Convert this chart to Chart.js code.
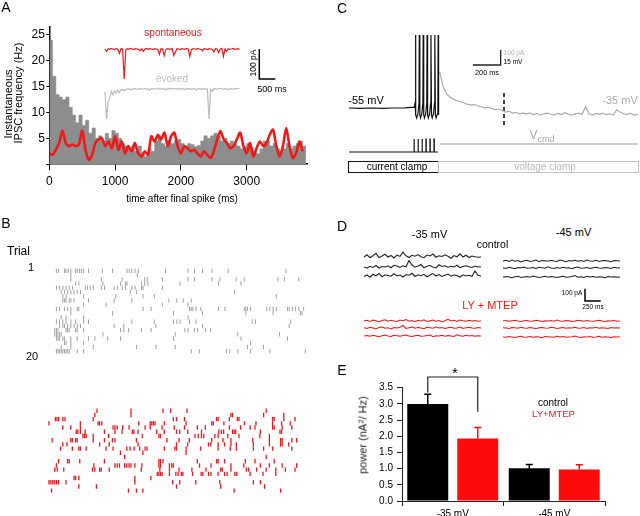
<!DOCTYPE html>
<html>
<head>
<meta charset="utf-8">
<title>IPSC figure</title>
<script src="https://cdn.jsdelivr.net/npm/chart.js@4.4.1/dist/chart.umd.min.js"></script>
<style>
body{margin:0;width:640px;height:516px;position:relative;overflow:hidden;background:#fff;font-family:"Liberation Sans",Arial,sans-serif;color:#000}
canvas{position:absolute}
.t{position:absolute;white-space:nowrap;line-height:1;transform:translate(-50%,-50%)}
.r{position:absolute;white-space:nowrap;line-height:1;transform:translate(-50%,-50%) rotate(-90deg)}
.box{position:absolute;box-sizing:border-box}
sup{font-size:0.7em;vertical-align:0.45em;line-height:0}
sub{font-size:0.75em;vertical-align:-0.3em;line-height:0}
</style>
</head>
<body>
<canvas id="chartA" width="320" height="210" style="left:0;top:0"></canvas>
<canvas id="insetA" width="180" height="90" style="left:100px;top:40px"></canvas>
<canvas id="rasterGray" width="272" height="104" style="left:44px;top:258px"></canvas>
<canvas id="rasterRed" width="272" height="104" style="left:37px;top:398px"></canvas>
<canvas id="chartC" width="300" height="160" style="left:340px;top:25px"></canvas>
<canvas id="chartD" width="280" height="100" style="left:355px;top:245px"></canvas>
<canvas id="chartE" width="300" height="156" style="left:340px;top:360px"></canvas>

<div class="box" style="left:348px;top:161px;width:91px;height:12px;border:1px solid #111"></div>
<div class="box" style="left:438px;top:161px;width:201px;height:12px;border:1.5px solid #c4c4c4"></div>

<!-- panel A -->
<div class="t" style="left:6px;top:7px;font-size:14px">A</div>
<div class="t" style="left:173px;top:33px;font-size:10px;color:#f01818">spontaneous</div>
<div class="t" style="left:172px;top:79px;font-size:10px;color:#bdbdbd">evoked</div>
<div class="r" style="left:253px;top:63px;font-size:8.5px">100 pA</div>
<div class="t" style="left:272px;top:89px;font-size:9px">500 ms</div>
<div class="r" style="left:7.5px;top:104px;font-size:11px">Instantaneous</div>
<div class="r" style="left:17.5px;top:93px;font-size:11px">IPSC frequency (Hz)</div>
<div class="t" style="left:182px;top:199px;font-size:10px">time after final spike (ms)</div>

<!-- panel B -->
<div class="t" style="left:6px;top:223px;font-size:14px">B</div>
<div class="t" style="left:18.5px;top:251px;font-size:12px">Trial</div>
<div class="t" style="left:31px;top:267px;font-size:11px">1</div>
<div class="t" style="left:32px;top:356px;font-size:11px">20</div>

<!-- panel C -->
<div class="t" style="left:342px;top:8px;font-size:14px">C</div>
<div class="t" style="left:366px;top:100px;font-size:11px">-55 mV</div>
<div class="t" style="left:620px;top:100px;font-size:11px;color:#aaa">-35 mV</div>
<div class="t" style="left:514px;top:52.5px;font-size:6.5px;color:#b0b0b0">100 pA</div>
<div class="t" style="left:513px;top:61.5px;font-size:6.5px">15 mV</div>
<div class="t" style="left:487px;top:73px;font-size:7.3px">200 ms</div>
<div class="t" style="left:542px;top:135px;font-size:12px;color:#aaa">V<sub>cmd</sub></div>
<div class="t" style="left:397px;top:167px;font-size:10px">current clamp</div>
<div class="t" style="left:545px;top:167px;font-size:10px;color:#bbb">voltage clamp</div>

<!-- panel D -->
<div class="t" style="left:342px;top:226px;font-size:14px">D</div>
<div class="t" style="left:429.5px;top:234px;font-size:11px">-35 mV</div>
<div class="t" style="left:573.5px;top:232px;font-size:11px">-45 mV</div>
<div class="t" style="left:492.5px;top:243.5px;font-size:10.5px">control</div>
<div class="t" style="left:490px;top:305px;font-size:11px;color:#f01818">LY + MTEP</div>
<div class="t" style="left:572px;top:293px;font-size:6.5px">100 pA</div>
<div class="t" style="left:593px;top:307px;font-size:6.5px">250 ms</div>

<!-- panel E -->
<div class="t" style="left:342px;top:370px;font-size:14px">E</div>
<div class="t" style="left:455px;top:373px;font-size:14px">*</div>
<div class="t" style="left:553px;top:403px;font-size:10px">control</div>
<div class="t" style="left:553.5px;top:414px;font-size:9.5px;color:#f01818">LY+MTEP</div>
<div class="r" style="left:363px;top:435px;font-size:11px;color:#222">power (nA<sup>2</sup>/ Hz)</div>

<script>
// ---- panel A: histogram + smoothed rate (Hz), 50 ms bins
const binMs = 50;
const grayHist = [24,17,13.5,13,12.5,13,11,9.5,8,9.5,
  7.5,8.5,6,7,5,5.5,4.5,6,5,6.5,
  6,5,4,3.5,3,3.5,2.5,3.5,2,1.5,
  3,2.5,4.5,5.5,4,3.5,4.5,4,4.5,4.8,
  4,3.5,4,3.8,3.4,3.6,4.5,5.5,5,5.5,
  6,5.5,4.5,5,4,4.5,4,3.5,3,3.4,
  4,3.2,2.5,2,3,4.5,4.5,3.5,4,3,
  2.5,3,4,3,3.5,4,4.5,3.5];
const redRate = [2.1,1.8,2.8,4.1,6.5,4.1,3.5,3.8,3.5,3.8,
  6.5,2.8,0.8,1.8,4.1,4.8,5.0,3.5,4.4,3.1,
  5.4,2.8,4.4,2.1,3.5,2.5,4.1,2.1,1.5,2.5,
  1.8,5.4,4.4,5.7,4.8,6.1,3.5,5.4,6.1,3.5,
  2.1,3.5,3.1,2.5,2.8,2.1,1.5,2.5,1.8,1.2,
  2.5,4.8,6.4,4.8,4.1,3.1,3.5,4.8,6.1,3.5,
  2.1,4.1,1.5,3.1,4.4,3.5,4.1,5.7,6.7,3.5,
  1.5,3.5,7.0,3.5,1.2,2.1,4.4,2.5];
const timeTicks = [0, 1000, 2000, 3000];

// inset example traces (pA), one sample per 50 ms
const insetStepMs = 50;
const spontTrace = [0,-8,1,-1,2,0,-2,1,-1,-15,
  1,0,-100,-3,1,-1,2,0,-2,1,
  0,-1,-6,1,-8,0,2,-1,1,0,
  -2,1,0,-1,-18,1,0,-22,-2,1,
  0,-1,2,-22,-10,1,0,-2,1,0,
  -1,2,0,-25,-2,1,0,-1,2,0,
  -1,-6,1,0,-2,1,0,-1,-10,1,
  0,-12,-1,2,-25,0,-8,1,-1,0,
  2,-1,0,1,-2];
const evokedTrace = [-10,-100,-40,-28,-8,-20,-6,-14,-4,-12,
  -3,-2,-6,-2,-1,0,-3,-1,0,1,
  -2,0,1,-1,0,2,-1,0,-4,1,
  0,-1,2,0,1,-1,0,1,-3,0,
  1,0,-1,2,0,1,-1,0,1,0,
  -2,1,0,1,-1,0,2,-4,1,0,
  -1,0,1,-1,0,-100,-3,-8,0,1,
  -1,0,2,0,-1,1,0,-2,1,0,
  -1,1,0,2,0];

// ---- panel B: IPSC times (ms after final spike), one list per trial
const grayTrials = [
  [25,60,150,175,210,250,325,350,385,415,450,525,740,900,1125,1160,1200,1250,1300,1725,2075,2175,2300,2450,2700,3600],
  [250,1285],
  [250,725,1050,1400,1440,1675,2075,2175,2450,2575,2825,2950,3475,3575,3800],
  [325,375,750,1025,1100,1125,1350,1400,1450,1950,2550,2900],
  [25,75,125,175,225,275,475,510,550,600,725,775,925,975,1050,1100,1200,1250,1350,1375,1675],
  [100,150,200,250,300,350,400,1175,1275,2800],
  [125,175,450,950,1375,1550,3450],
  [125,150,175,225,250,300,525,925,1200,1775,1900,2000,2125],
  [450,800,1675,2075],
  [25,75,150,200,250,350,375,1375,1500,2100,2125,2150,2200,2275,2550,2650,2950,2975,3000,3050,3300,3350,3400,3450,3625,3650,3700,3750,3800,3875],
  [250,900,1850,2300,2975,3400,3825,3850],
  [100,175,450,2075],
  [25,75,125,175,250,325,450,525,1200,1550,1850,1900,1950,2100,2200,3075,3125,3675],
  [75,125,150,200,250,300,350,400,925,1075,1575,2300,3650],
  [0,25,50,175,200,225,325,350,450,1025,1075,1150,1350,1500,2025,2075,2175,2225,2350,2425],
  [0,25,50,75,100,750,1875,2850,3500],
  [25,50,75,125,150,250,350,525,625,825,1025,1850,2900,3625],
  [150,175,250,450,3050],
  [100,250,600,1275,1575,1875,3000,3250],
  [25,50,75,100,125,150,175,200,225,350,450,2125,2250,2675,2725,2850,3050,3350,3900]
];
const redTrials = [
  [760,1290,1790,1910,2165,3400],
  [725,1290,2850,2875,3360,3675],
  [110,135,160,225,260,700,1950,2000,2125,2625,2650,2825,2950,2975,3500,3525,3675,3850],
  [10,500,775,800,835,1410,1590,1615,1640,1665,1810,2150,2550,2575,2740,3060,3240,3500,3640,3775],
  [225,350,500,1010,1040,1075,1160,1260,1510,1590,1775,1965,2125,2325,2450,2825,3000,3150,3225,3500,3525,3650,3800],
  [435,460,500,575,875,1040,1150,1310,1335,1400,1690,1810,2000,2050,2175,2390,2660,2700,2735,2875,2900,2925,3310,3615,3640],
  [540,565,590,700,940,1465,1725,1750,2290,2340,2390,2425,2600,2650,2800,2975,3300,3450],
  [60,350,375,425,450,700,875,1000,1040,1375,1850,2040,2200,2550,2725,2850,3190,3450,3625,3650,3800,3875],
  [225,290,800,950,1400,2000,2175,2500,2535,2650,2750,2850,2935,3200,3450,3625,3650,3750],
  [190,375,475,500,590,900,1010,1225,1275,1340,1425,1510,1540,1810,1975,2000,2150,2375,2650,2840,2935,3200,3360,3500,3800],
  [1125,1475,2150],
  [1190,3400],
  [160,300,325,490,875,1725,1750,1790,2325,2625,2650,2750,3075,3225,3525],
  [125,710,1040,1075,1110,1190,1225,1260,1290,1350,1460,1725,1750,1890,1925,1950,2360,2540,2850,3050,3310,3450,3650,3875],
  [100,140,240,690,725,800,825,950,1450,1740,1890,2040,2240,2460,2690,2715,2850,3090,3125,3250,3400,3550,3700,3850],
  [1700,1725,1750,1775,1890,1990,2025,2075,2100,2250,2385,2410,2500,2540,2650,2750,2790,2910,2940,3150,3350,3550],
  [400,425,475,1350,1600],
  [10,40,70,100,130,160,275,1350,1940,2050,2300,2675,3200,3310],
  [475,750,2000,2690,3375],
  [50,1250,1375,1475,2900,3625]
];

// ---- panel C: membrane potential [ms, mV], step command, holding current (pA)
const membraneV = [[0,-55],[80,-55.4],[160,-55],[240,-55.3],[320,-55],[400,-54.8],[470,-54.2],
  [476,-50],[478,18],[482,-62],[487,-65],[496,-61],
  [504,-50],[506,18],[510,-62],[515,-65],[524,-61],
  [532,-50],[534,18],[538,-62],[543,-65],[552,-61],
  [560,-50],[562,18],[566,-62],[571,-65],[580,-61],
  [588,-50],[590,18],[594,-62],[599,-65],[608,-61],
  [616,-50],[618,18],[622,-62],[627,-65],[636,-61],
  [640,-50],[642,18],[645,-62]];
const pulseTimes = [468,497,526,554,583,612];
const currentStartMs = 653;
const currentStepMs = 25;
const holdCurrent = [287,190,140,118,105,95,88,80,72,66,
  70,60,55,48,52,42,36,40,30,20,
  25,13,18,7,13,
  7,13,3,10,0,8,13,5,0,10,
  3,15,6,0,8,13,4,55,6,0,
  10,4,12,2,8,0,35,20,8,3,
  10,0,6];
const markerMs = 1116;

// ---- panel D: current noise (pA) in three sweeps per condition
const ctl35 = [
  [0,18,-6,10,30,-4,8,22,0,12,-8,15,5,40,10,-4,14,6,20,2,-6,16,8,24,-2,10,4,18,6,-10,12,2,26,0,14,-4,8,2,-2,0],
  [0,-10,6,-4,12,-8,4,0,10,-6,14,8,-4,10,2,52,16,-2,8,20,-6,6,12,0,-8,18,4,10,-2,6,0,14,-6,4,10,2,-4,8,0,2],
  [-4,8,-10,14,2,20,-6,10,4,-2,18,0,8,-8,12,6,22,-4,10,2,14,-6,8,20,0,12,-4,6,16,-2,8,4,-8,10,0,6,-2,40,6,0]
];
const ctl45 = [
  [0,6,-4,8,-2,4,-8,2,6,-4,0,8,-6,4,2,-2,6,0,-4,8,2,-6,4,0,6,-2,4,-4,8,0,-2,6,-4,2,4,0,-6,4,2,0],
  [2,-4,6,0,-6,4,2,8,-2,0,4,-4,6,2,-2,10,0,-4,4,-2,6,0,2,-6,4,8,-2,0,4,-4,2,6,0,-2,4,2,-4,6,0,2],
  [-2,4,0,-6,2,6,-4,0,4,-2,8,2,-4,0,6,-2,4,0,-4,2,6,-2,0,4,12,-2,2,-4,6,0,4,-2,2,0,-6,4,0,2,-2,0]
];
const ly35 = [
  [0,6,-4,8,2,-6,4,10,-2,6,0,-4,8,2,12,-2,4,-6,6,0,10,-4,2,8,-2,4,-6,2,14,0,6,-4,8,2,-2,6,0,4,-2,0],
  [2,-4,6,0,-6,4,8,-2,2,-8,4,0,6,20,-4,2,8,-2,4,0,-6,6,2,-2,8,0,4,-4,2,6,-2,0,8,-4,2,6,0,-2,4,0],
  [0,4,-2,6,0,-6,2,8,0,-4,6,2,-2,4,8,0,-4,2,6,-2,0,4,8,-6,2,0,6,-2,4,0,-4,10,2,-2,6,0,4,-2,2,0]
];
const ly45 = [
  [0,4,-2,2,6,0,-4,2,4,-2,0,6,2,-4,2,0,4,-2,8,0,-2,4,2,-4,0,6,2,-2,4,0,-2,2,6,0,-4,2,0,4,-2,0],
  [2,0,-4,4,2,-2,6,0,-2,4,0,-6,2,4,0,-2,6,2,-4,0,4,-2,2,0,6,-2,0,4,-4,2,0,6,-2,2,0,-4,4,0,2,0],
  [0,-2,4,0,-4,2,6,-2,0,4,-2,2,0,-6,4,2,0,-2,6,0,4,-2,0,2,8,0,-4,2,0,4,-2,0,6,-2,2,0,-4,2,0,2]
];
const sweepMs = 1860;

// ---- panel E: power (nA^2/Hz), mean and SEM
const conditions = ['-35 mV', '-45 mV'];
const controlPower = [3.0, 1.01];
const controlSem = [0.30, 0.12];
const lyPower = [1.93, 0.97];
const lySem = [0.34, 0.15];

const RED = '#f01818';

Chart.defaults.font.family = "'Liberation Sans', Arial, sans-serif";
Chart.defaults.color = '#000';
Chart.defaults.animation = false;
Chart.defaults.responsive = false;
Chart.defaults.events = [];
Chart.defaults.plugins.legend.display = false;
Chart.defaults.plugins.tooltip.enabled = false;

// value range of a hidden axis so that px = px0 + v*k over a canvas edge
function span(start, size, px0, k){
  return {type:'linear', display:false, min:(start-px0)/k, max:(start+size-px0)/k};
}
// same, for an axis growing upwards: px = px0 - v*k
function spanUp(top, size, px0, k){
  return {type:'linear', display:false, min:(px0-top-size)/k, max:(px0-top)/k};
}
function line(points, color, width, extra){
  return Object.assign({data:points, borderColor:color, borderWidth:width, pointRadius:0, fill:false, tension:0}, extra||{});
}
function pairs(arr){ return arr.map(p => ({x:p[0], y:p[1]})); }

// ---------- A
const axisA = {drawOnChartArea:false, color:'#000', lineWidth:1};
new Chart(document.getElementById('chartA'), {
  type:'line',
  data:{datasets:[
    line(redRate.map((v,i) => ({x:i*binMs, y:v})), RED, 2.6, {tension:0.25, order:0}),
    {data: grayHist.map((v,i) => ({x:i*binMs, y:v})).concat([{x:grayHist.length*binMs, y:grayHist[grayHist.length-1]}]),
     stepped:'before', fill:'origin', backgroundColor:'#8d8d8d', borderColor:'#8d8d8d', borderWidth:0.5, pointRadius:0, order:1}
  ]},
  options:{
    layout:{padding:{left:25, right:13, top:27.2, bottom:0}},
    scales:{
      x:{type:'linear', min:0, max:3916,
        afterFit: s => { s.height = 45.8; },
        afterBuildTicks: s => { s.ticks = timeTicks.map(v => ({value:v})); },
        ticks:{autoSkip:false, font:{size:12}, padding:4, maxRotation:0, callback: v => String(v)},
        grid:Object.assign({tickLength:6}, axisA),
        border:{color:'#000', width:1.5}},
      y:{type:'linear', min:0, max:26.5,
        afterFit: s => { s.width = 24.3; },
        ticks:{stepSize:5, autoSkip:false, includeBounds:false, font:{size:12}, padding:1.5, callback: v => v === 0 ? '' : String(v)},
        grid:Object.assign({tickLength:3}, axisA),
        border:{color:'#000', width:1.5}}
    }
  }
});

// inset traces: 500 ms = 16 px, 100 pA = 30 px
const evokedOffset = -133;
new Chart(document.getElementById('insetA'), {
  type:'line',
  data:{datasets:[
    line(spontTrace.map((v,i) => ({x:i*insetStepMs, y:v})), RED, 1.2),
    line(evokedTrace.map((v,i) => ({x:i*insetStepMs, y:v+evokedOffset})), '#bdbdbd', 1.2),
    line([{x:4822,y:0},{x:4822,y:-100},{x:5322,y:-100}], '#000', 1.5)
  ]},
  options:{scales:{x:span(100,180,105,1/31.25), y:spanUp(40,90,49,0.3)}}
});

// ---------- B rasters
function raster(id, trials, color, width, left, top, px0x, px0y){
  const pts = [];
  trials.forEach((times, r) => times.forEach(t => pts.push({x:t, y:r+1})));
  new Chart(document.getElementById(id), {
    type:'scatter',
    data:{datasets:[{data:pts, pointStyle:'line', pointRotation:90, pointRadius:2.2,
      pointBorderColor:color, pointBorderWidth:width, borderColor:color, borderWidth:width}]},
    options:{scales:{x:span(left,272,px0x,1/15), y:Object.assign(span(top,104,px0y,4.684), {reverse:true})}}
  });
}
raster('rasterGray', grayTrials, '#a0a0a0', 1, 44, 258, 50, 262.0);
raster('rasterRed', redTrials, '#ec1820', 1.3, 37, 398, 43.3, 401.6);

// ---------- C: 200 ms = 28 px, 15 mV = 15 px, 100 pA = 15 px
const cmdTrace = [{x:0, y:-99}];
pulseTimes.forEach(t => cmdTrace.push({x:t,y:-99},{x:t,y:-86},{x:t+2,y:-86},{x:t+2,y:-99}));
cmdTrace.push({x:641, y:-99});
new Chart(document.getElementById('chartC'), {
  type:'line',
  data:{datasets:[
    line(pairs(membraneV), '#111', 1.2),
    line(cmdTrace, '#111', 1.2),
    line([{x:655,y:-91},{x:2081,y:-91}], '#bdbdbd', 1.3),
    line(holdCurrent.map((v,i) => ({x:currentStartMs+i*currentStepMs, y:v})), '#ababab', 1.2, {yAxisID:'y2'}),
    line([{x:markerMs,y:-40},{x:markerMs,y:-75}], '#000', 1.5, {borderDash:[4,3]}),
    line([{x:892,y:-12},{x:1092,y:-12},{x:1092,y:3}], '#222', 1.3)
  ]},
  options:{scales:{x:span(340,300,349,1/7.2), y:spanUp(25,160,53,1), y2:spanUp(25,160,115,0.15)}}
});

// ---------- D: 250 ms = 15.7 px, 100 pA = 12.3 px
const rowPA = px => (345 - px) * 8.13;
function sweeps(groups, startMs, rowsPx, color){
  return groups.map((noise, k) => line(
    noise.map((v,i) => ({x:startMs + i*sweepMs/(noise.length-1), y:v + rowPA(rowsPx[k])})), color, 1.1));
}
new Chart(document.getElementById('chartD'), {
  type:'line',
  data:{datasets:[].concat(
    sweeps(ctl35, 0, [257,267,276], '#222'),
    sweeps(ctl45, 2210, [261,268,277], '#222'),
    sweeps(ly35, 0, [321,328,336], RED),
    sweeps(ly45, 2210, [321,328,337], RED),
    [line([{x:3514,y:458},{x:3514,y:358},{x:3764,y:358}], '#000', 1.5)]
  )},
  options:{scales:{x:span(355,280,364,1/15.9), y:spanUp(245,100,345,1/8.13)}}
});

// ---------- E bar chart
const semPlugin = {
  id:'sem',
  afterDatasetsDraw(chart){
    const ctx = chart.ctx, y = chart.scales.y;
    [controlSem, lySem].forEach((sem, di) => {
      const ds = chart.data.datasets[di];
      chart.getDatasetMeta(di).data.forEach((bar, i) => {
        const top = y.getPixelForValue(ds.data[i] + sem[i]);
        ctx.save();
        ctx.strokeStyle = ds.backgroundColor; ctx.lineWidth = 1.5;
        ctx.beginPath();
        ctx.moveTo(bar.x, bar.y); ctx.lineTo(bar.x, top);
        ctx.moveTo(bar.x-3.5, top); ctx.lineTo(bar.x+3.5, top);
        ctx.stroke(); ctx.restore();
      });
    });
    // significance bracket between the two -35 mV bars
    const a = chart.getDatasetMeta(0).data[0].x, b = chart.getDatasetMeta(1).data[0].x;
    ctx.save(); ctx.strokeStyle = '#222'; ctx.lineWidth = 1.2;
    ctx.beginPath();
    ctx.moveTo(a, y.getPixelForValue(3.35)); ctx.lineTo(a, y.getPixelForValue(3.83));
    ctx.lineTo(b, y.getPixelForValue(3.83)); ctx.lineTo(b, y.getPixelForValue(2.76));
    ctx.stroke(); ctx.restore();
  }
};
const axisE = {drawOnChartArea:false, color:'#222', lineWidth:1, tickLength:5};
new Chart(document.getElementById('chartE'), {
  type:'bar',
  data:{labels:conditions, datasets:[
    {label:'control', data:controlPower, backgroundColor:'#000', categoryPercentage:0.985, barPercentage:0.82},
    {label:'LY+MTEP', data:lyPower, backgroundColor:'#fe0c0c', categoryPercentage:0.985, barPercentage:0.82}
  ]},
  options:{
    layout:{padding:{left:20, right:35, top:27.7, bottom:0}},
    scales:{
      x:{afterFit: s => { s.height = 15; }, ticks:{font:{size:10}, padding:2},
        grid:Object.assign({offset:true}, axisE), border:{color:'#222', width:1}},
      y:{min:0, max:3.5, afterFit: s => { s.width = 42; },
        ticks:{stepSize:0.5, font:{size:10}, padding:4, callback: v => v.toFixed(1)},
        grid:axisE, border:{color:'#222', width:1}}
    }
  },
  plugins:[semPlugin]
});
</script>
</body>
</html>
